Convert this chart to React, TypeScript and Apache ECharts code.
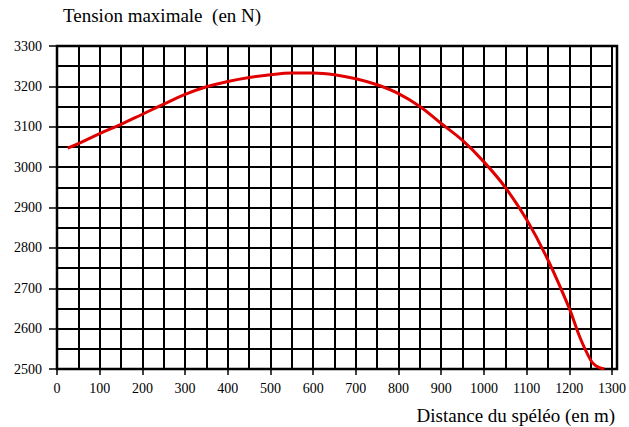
import React, { useEffect, useRef } from "react";
import * as echarts from "echarts";

const distances = [25, 50, 100, 150, 200, 250, 300, 350, 400, 450, 500, 550, 600, 650, 700, 750, 800, 850, 900, 950, 1000, 1050, 1100, 1150, 1200, 1225, 1250, 1262, 1282];
const tensions = [3047, 3058, 3083, 3106, 3131, 3156, 3180, 3199, 3212, 3222, 3229, 3233, 3233, 3229, 3219, 3204, 3182, 3150, 3108, 3066, 3013, 2950, 2870, 2770, 2650, 2578, 2522, 2508, 2500];

const yTitle = "Tension maximale  (en N)";
const xTitle = "Distance du spéléo (en m)";

const FONT = "'Liberation Serif', 'Times New Roman', serif";

export default function App() {
  const ref = useRef<HTMLDivElement>(null);
  useEffect(() => {
    if (!ref.current) return;
    const chart = echarts.init(ref.current, null, { renderer: "svg" });
    const gridLine = { color: "#000", width: 2 };
    const label = {
      color: "#000",
      fontFamily: FONT,
      fontSize: 14,
      formatter: (v: number) => String(v),
    };
    chart.setOption({
      animation: false,
      backgroundColor: "#fff",
      textStyle: { fontFamily: FONT },
      grid: { left: 57, right: 12, top: 46, bottom: 58, containLabel: false },
      xAxis: {
        type: "value",
        min: 0,
        max: 1300,
        interval: 100,
        axisLine: { show: true, lineStyle: { color: "#000", width: 2 } },
        axisTick: { show: true, length: 6, lineStyle: { color: "#000", width: 1.5 } },
        axisLabel: { ...label, margin: 12 },
        splitLine: { show: true, lineStyle: gridLine },
        minorTick: { show: false, splitNumber: 2 },
        minorSplitLine: { show: true, lineStyle: gridLine },
      },
      yAxis: {
        type: "value",
        min: 2500,
        max: 3300,
        interval: 100,
        axisLine: { show: true, lineStyle: { color: "#000", width: 2 } },
        axisTick: { show: true, length: 8, lineStyle: { color: "#000", width: 1.5 } },
        axisLabel: { ...label, margin: 15 },
        splitLine: { show: true, lineStyle: gridLine },
        minorTick: { show: false, splitNumber: 2 },
        minorSplitLine: { show: true, lineStyle: gridLine },
      },
      graphic: [
        {
          type: "text",
          left: 63,
          top: 6,
          style: { text: yTitle, fill: "#000", font: `19px ${FONT}` },
        },
        {
          type: "text",
          right: 14,
          top: 406,
          style: { text: xTitle, fill: "#000", font: `19px ${FONT}` },
        },
        {
          type: "rect",
          shape: { x: 57, y: 46, width: 560, height: 323 },
          style: { fill: "none", stroke: "#000", lineWidth: 2.5 },
          z: 5,
        },
      ],
      series: [
        {
          type: "line",
          data: distances.map((d, i) => [d, tensions[i]]),
          smooth: 0.4,
          showSymbol: false,
          lineStyle: { color: "#e00000", width: 3 },
          z: 10,
        },
      ],
    });
    return () => chart.dispose();
  }, []);
  return (
    <div
      ref={ref}
      style={{ position: "absolute", left: 0, top: 0, width: 629, height: 427 }}
    />
  );
}
